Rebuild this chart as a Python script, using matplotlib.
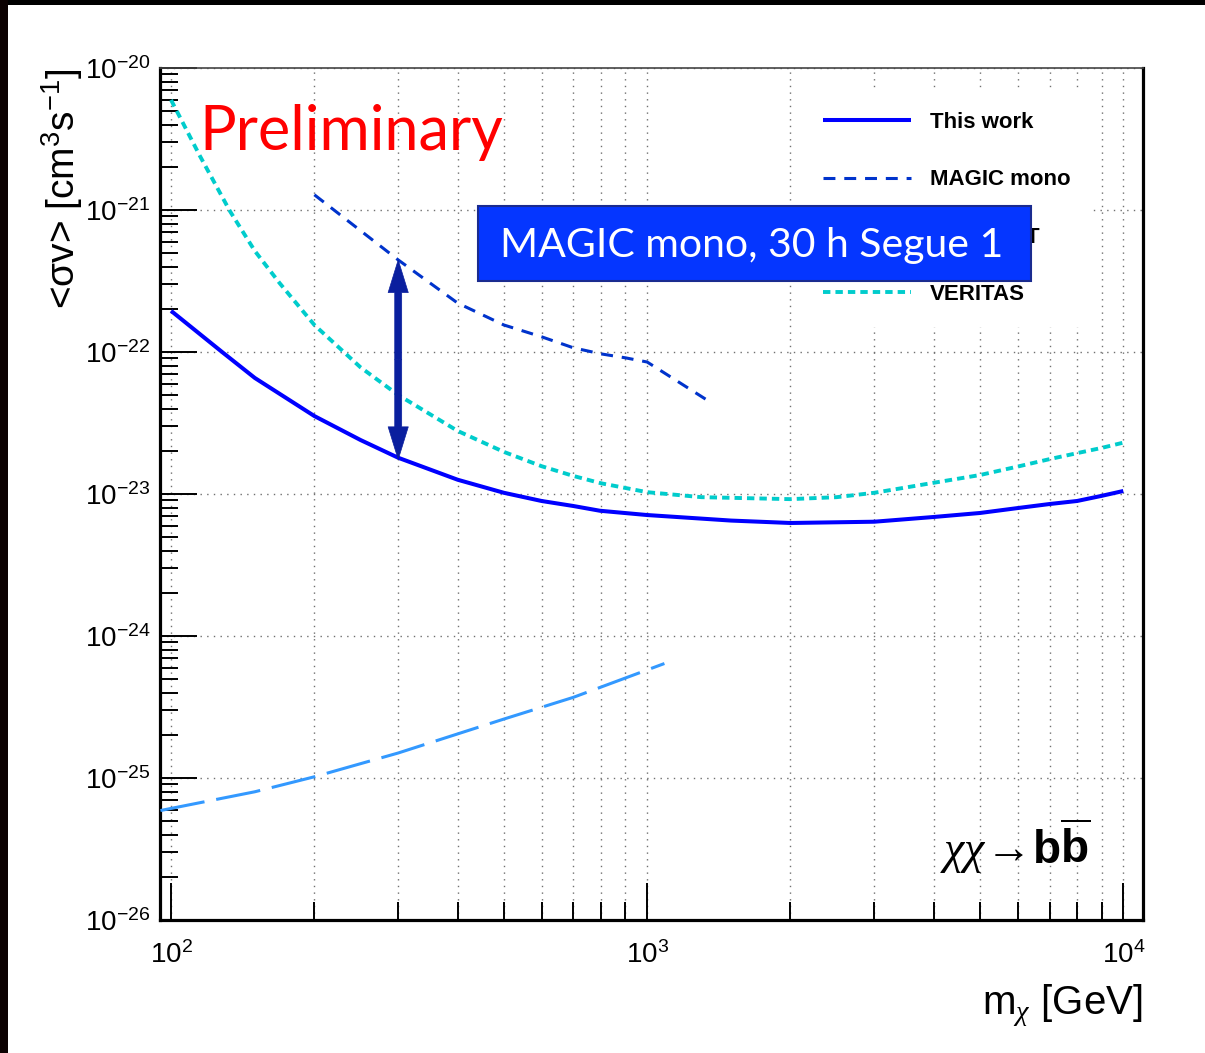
import matplotlib
matplotlib.use("Agg")
import matplotlib.pyplot as plt
from matplotlib.patches import Rectangle
from matplotlib.ticker import LogLocator, NullFormatter, FixedLocator

plt.rcParams['font.family'] = ['Liberation Sans', 'DejaVu Sans']
plt.rcParams['mathtext.fontset'] = 'custom'
plt.rcParams['mathtext.rm'] = 'Liberation Sans'
plt.rcParams['mathtext.it'] = 'Liberation Serif:italic'
plt.rcParams['mathtext.bf'] = 'Liberation Sans:bold'
plt.rcParams['mathtext.sf'] = 'Liberation Sans'
plt.rcParams['mathtext.default'] = 'regular'
plt.rcParams['axes.unicode_minus'] = False

# ---------------- data ----------------
this_work_m = [100, 128, 150, 200, 250, 300, 400, 500, 600, 700, 796, 1000, 1500,
               2000, 3000, 4000, 5000, 6000, 7000, 8000, 9000, 10000]
this_work_sv = [1.95e-22, 1.0e-22, 6.56e-23, 3.54e-23, 2.40e-23, 1.80e-23, 1.26e-23,
                1.02e-23, 8.93e-24, 8.23e-24, 7.62e-24, 7.11e-24, 6.5e-24, 6.25e-24,
                6.38e-24, 6.89e-24, 7.35e-24, 7.96e-24, 8.5e-24, 8.93e-24, 9.7e-24,
                1.05e-23]

magic_mono_m = [200, 300, 400, 500, 600, 700, 800, 900, 1000, 1355]
magic_mono_sv = [1.28e-21, 4.45e-22, 2.21e-22, 1.55e-22, 1.28e-22, 1.07e-22,
                 9.7e-23, 9.1e-23, 8.5e-23, 4.45e-23]

fermi_m = [95, 150, 200, 300, 500, 700, 1087]
fermi_sv = [5.9e-26, 8.0e-26, 1.02e-25, 1.5e-25, 2.6e-25, 3.7e-25, 6.4e-25]

veritas_m = [100, 115, 133, 150, 169, 200, 250, 300, 400, 500, 600, 700, 800,
             1000, 1300, 2000, 2500, 3000, 4000, 5000, 6000, 7000, 8000, 9000, 10000]
veritas_sv = [5.96e-21, 2.4e-21, 9.8e-22, 5.14e-22, 3.06e-22, 1.55e-22, 7.8e-23,
              4.98e-23, 2.78e-23, 1.98e-23, 1.57e-23, 1.34e-23, 1.19e-23, 1.03e-23,
              9.5e-24, 9.2e-24, 9.5e-24, 1.02e-23, 1.2e-23, 1.36e-23, 1.56e-23,
              1.76e-23, 1.94e-23, 2.11e-23, 2.30e-23]

arrow_m = 300
arrow_sv_top = 4.45e-22
arrow_sv_bottom = 1.75e-23

labels = ["This work", "MAGIC mono", "Fermi-LAT", "VERITAS"]
box_text = "MAGIC mono, 30 h Segue 1"
x_ticks = [1e2, 1e3, 1e4]
y_ticks = [1e-26, 1e-25, 1e-24, 1e-23, 1e-22, 1e-21, 1e-20]
x_lim = (94.8, 11000)
y_lim = (1e-26, 1e-20)

# ---------------- figure ----------------
W, H = 1205, 1053
fig = plt.figure(figsize=(W / 100, H / 100), dpi=100, facecolor='white')

# dark borders (top and left)
fig.patches.append(Rectangle((0, 1 - 5 / H), 1, 5 / H, transform=fig.transFigure,
                             facecolor='black', edgecolor='none', zorder=0))
fig.patches.append(Rectangle((0, 0), 8 / W, 1, transform=fig.transFigure,
                             facecolor='#0c0202', edgecolor='none', zorder=0))

L, R, T, B = 160, 1143, 68, 920
ax = fig.add_axes([L / W, 1 - B / H, (R - L) / W, (B - T) / H])
ax.set_xscale('log')
ax.set_yscale('log')
ax.set_xlim(*x_lim)
ax.set_ylim(*y_lim)

def px2ax(px, py):
    return ((px - L) / (R - L), (B - py) / (B - T))

# ticks / grid
ax.xaxis.set_major_locator(FixedLocator(x_ticks))
ax.xaxis.set_minor_locator(LogLocator(base=10, subs=range(2, 10), numticks=20))
ax.yaxis.set_major_locator(FixedLocator(y_ticks))
ax.yaxis.set_minor_locator(LogLocator(base=10, subs=range(2, 10), numticks=20))
ax.xaxis.set_minor_formatter(NullFormatter())
ax.yaxis.set_minor_formatter(NullFormatter())
gkw = dict(color='#707070', linewidth=1.0, linestyle=(0, (1, 3.8)))
ax.grid(True, which='major', axis='both', **gkw)
ax.grid(True, which='minor', axis='x', **gkw)
ax.set_axisbelow(True)

ax.tick_params(which='both', direction='in', top=False, right=False, width=1.4,
               labelsize=20, colors='black')
ax.tick_params(which='major', length=26.5)
ax.tick_params(which='minor', length=13)
ax.tick_params(axis='x', which='major', pad=15)
ax.tick_params(axis='y', which='major', pad=7)

for s in ['left', 'bottom', 'right']:
    ax.spines[s].set_linewidth(2.3)
ax.spines['top'].set_linewidth(1.2)
ax.spines['top'].set_color('#444444')

# curves
ax.plot(this_work_m, this_work_sv, color='#0000ff', lw=2.9, label=labels[0],
        solid_capstyle='butt', solid_joinstyle='round', zorder=3)
ax.plot(magic_mono_m, magic_mono_sv, color='#0033cc', lw=2.2,
        linestyle=(0, (3.9, 2.9)), label=labels[1], zorder=3)
ax.plot(fermi_m, fermi_sv, color='#3399ff', lw=2.2,
        linestyle=(0, (14.7, 3.9)), label=labels[2], zorder=3)
ax.plot(veritas_m, veritas_sv, color='#00cccc', lw=2.8,
        linestyle=(0, (1.9, 1.3)), label=labels[3], zorder=3)

# double arrow (two single-headed halves from the geometric midpoint)
arrow_mid = (arrow_sv_top * arrow_sv_bottom) ** 0.5
akw = dict(width=5.0, headwidth=14.5, headlength=23.5, shrink=0.0,
           facecolor='#0a1f9e', edgecolor='#0a1f9e', linewidth=0.5)
for tip in (arrow_sv_top, arrow_sv_bottom):
    ax.annotate('', xy=(arrow_m, tip), xytext=(arrow_m, arrow_mid),
                arrowprops=akw, zorder=4)

# legend
lx, ly = px2ax(801, 90)
leg = ax.legend(loc='upper left', bbox_to_anchor=(lx, ly), borderaxespad=0,
                frameon=True, fancybox=False, facecolor='white', edgecolor='none',
                framealpha=1, prop={'weight': 'bold', 'size': 16},
                handlelength=3.96, handletextpad=0.86, labelspacing=1.63,
                borderpad=1.0)
leg.set_zorder(5)

# blue box covering part of legend
bx0, by0 = px2ax(478, 281)
bx1, by1 = px2ax(1031, 206)
ax.add_patch(Rectangle((bx0, by0), bx1 - bx0, by1 - by0, transform=ax.transAxes,
                       facecolor='#0536ff', edgecolor='#1a2b8f', lw=1.5,
                       zorder=6, clip_on=False))
tx, ty = px2ax(752, 246)
ax.text(tx, ty, box_text, transform=ax.transAxes, ha='center', va='center',
        color='white', fontsize=29.5, family='Lato', zorder=7)

# Preliminary
px_, py_ = px2ax(199, 150)
ax.text(px_, py_, "Preliminary", transform=ax.transAxes, ha='left', va='baseline',
        color='#ff0000', fontsize=44, family='Lato', zorder=7)

# channel label
cx, cy = px2ax(940, 864)
ax.text(cx, cy, r'$\mathit{\chi\chi}\!\rightarrow\!\mathbf{b}\overline{\mathbf{b}}$',
        transform=ax.transAxes, ha='left', va='baseline', fontsize=33,
        color='black', zorder=7)

# axis titles
fig.text(62 / W, 1 - 68 / H, r'<$\sigma$v> [cm$^{3}$s$^{-1}$]', rotation=90,
         ha='center', va='top', fontsize=28)
fig.text(R / W, 1 - 1014 / H, r'm$_{\mathit{\chi}}$ [GeV]', ha='right', va='baseline',
         fontsize=29)

fig.savefig('out.png', dpi=100, facecolor='white')
